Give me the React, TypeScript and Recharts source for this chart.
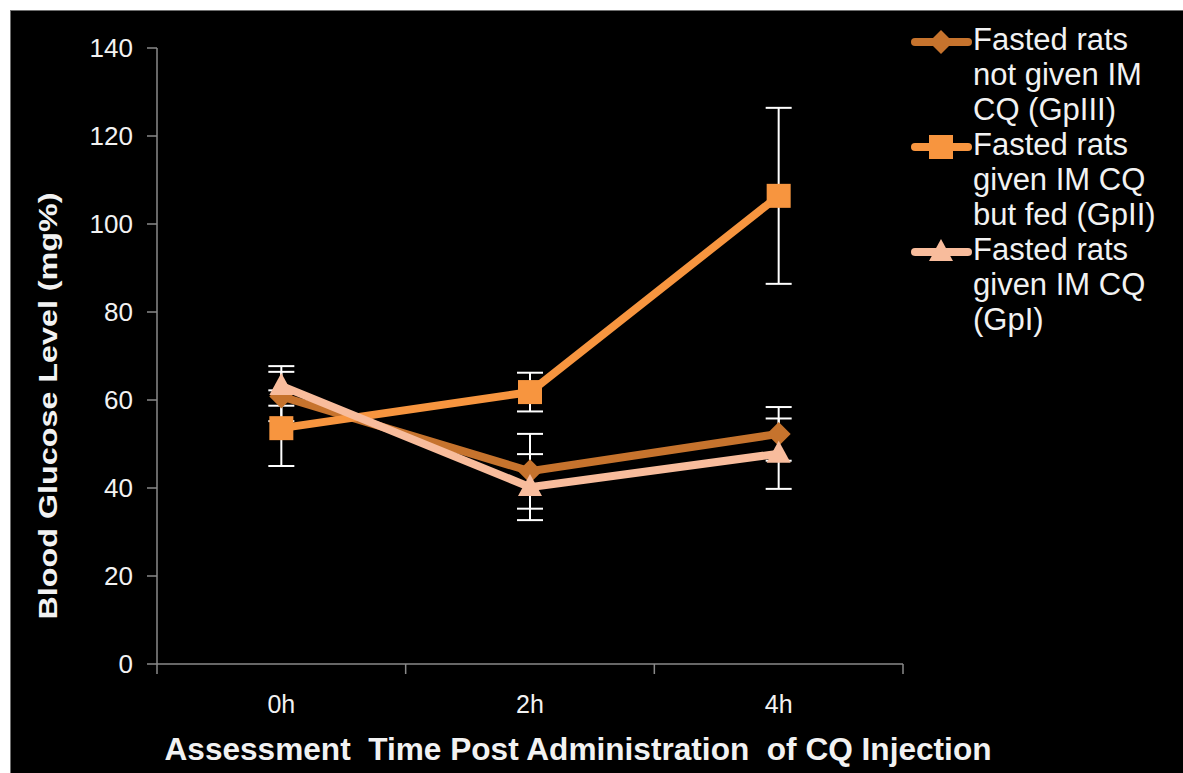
import { LineChart, Line, XAxis, YAxis, ErrorBar, Legend, Label } from 'recharts';

const times = ['0h', '2h', '4h'];
const slots = [0, 1, 2, 3];
const yTicks = [0, 20, 40, 60, 80, 100, 120, 140];

const gp3 = [60.8, 43.8, 52.3];
const gp3Err = [5.6, 8.5, 6.1];
const gp2 = [53.6, 61.8, 106.4];
const gp2Err = [8.6, 4.4, 20];
const gp1 = [63.2, 40.2, 47.8];
const gp1Err = [4.5, 7.5, 8];

const NAMES = {
  gp3: 'Fasted rats not given IM CQ (GpIII)',
  gp2: 'Fasted rats given IM CQ but fed (GpII)',
  gp1: 'Fasted rats given IM CQ (GpI)',
};

const COLORS = {
  gp3: '#C6732D',
  gp2: '#F7953F',
  gp1: '#F8BC9C',
  axis: '#8a8a8a',
  text: '#f2f2f2',
};

const data = times.map((t, i) => ({
  time: t,
  slot: i,
  gp3: gp3[i],
  gp3Err: gp3Err[i],
  gp2: gp2[i],
  gp2Err: gp2Err[i],
  gp1: gp1[i],
  gp1Err: gp1Err[i],
}));

function Marker({ kind, cx, cy, color }: { kind: string; cx: number; cy: number; color: string }) {
  if (kind === 'square') {
    return <rect x={cx - 12} y={cy - 12} width={24} height={24} fill={color} />;
  }
  if (kind === 'diamond') {
    return <path d={`M${cx},${cy - 12} L${cx + 12},${cy} L${cx},${cy + 12} L${cx - 12},${cy} Z`} fill={color} />;
  }
  return <path d={`M${cx},${cy - 13} L${cx + 12},${cy + 9} L${cx - 12},${cy + 9} Z`} fill={color} />;
}

const dotOf = (kind: string, color: string) => (p: any) => (
  <Marker key={`${kind}-${p.index}`} kind={kind} cx={p.cx} cy={p.cy} color={color} />
);

const legendItems = [
  { name: NAMES.gp3, color: COLORS.gp3, kind: 'diamond' },
  { name: NAMES.gp2, color: COLORS.gp2, kind: 'square' },
  { name: NAMES.gp1, color: COLORS.gp1, kind: 'triangle' },
];

function LegendBox() {
  return (
    <div style={{ fontFamily: '"Liberation Sans", Arial, sans-serif', fontSize: 31, lineHeight: '35px', color: COLORS.text }}>
      {legendItems.map((it) => (
        <div key={it.name} style={{ display: 'flex', alignItems: 'flex-start' }}>
          <svg width={63} height={35} style={{ flex: 'none', marginTop: 3 }}>
            <line x1={5} y1={17} x2={58} y2={17} stroke={it.color} strokeWidth={8} strokeLinecap="round" />
            <Marker kind={it.kind} cx={31} cy={17} color={it.color} />
          </svg>
          <div style={{ width: 200 }}>{it.name}</div>
        </div>
      ))}
    </div>
  );
}

function YTitle(props: any) {
  const vb = props.viewBox;
  const x = vb.x + 37;
  const y = vb.y + vb.height / 2 + 50;
  return (
    <text
      x={x}
      y={y}
      transform={`rotate(-90 ${x} ${y})`}
      textAnchor="middle"
      dominantBaseline="central"
      fill={COLORS.text}
      fontFamily='"Liberation Sans", Arial, sans-serif'
      fontWeight="bold"
      fontSize={25}
      textLength={427}
      lengthAdjust="spacingAndGlyphs"
    >
      Blood Glucose Level (mg%)
    </text>
  );
}

function XTitle(props: any) {
  const vb = props.viewBox;
  const x = vb.x + vb.width / 2 + 48;
  const y = vb.y + 82;
  return (
    <text
      x={x}
      y={y}
      textAnchor="middle"
      fill={COLORS.text}
      fontFamily='"Liberation Sans", Arial, sans-serif'
      fontWeight="bold"
      fontSize={31}
      textLength={827}
      lengthAdjust="spacingAndGlyphs"
      style={{ whiteSpace: 'pre' }}
    >
      {'Assessment  Time Post Administration  of CQ Injection'}
    </text>
  );
}

export default function App() {
  return (
    <div style={{ position: 'absolute', left: 0, top: 0, width: 1183, height: 773, background: '#fff', overflow: 'hidden' }}>
      <div
        style={{
          position: 'absolute',
          left: 10,
          top: 10,
          width: 1173,
          height: 763,
          background: '#000',
          borderLeft: '1px solid #6f6f6f',
          borderTop: '1px solid #6f6f6f',
          boxSizing: 'border-box',
        }}
      >
        <LineChart width={1172} height={762} data={data} margin={{ top: 37, right: 280, bottom: 0, left: 0 }}>
          <XAxis
            xAxisId="axisB"
            dataKey="time"
            type="category"
            scale="band"
            height={95}
            axisLine={false}
            tickLine={false}
            tickSize={0}
            tickMargin={17}
            tick={{ fill: COLORS.text, fontSize: 25, fontFamily: '"Liberation Sans", Arial, sans-serif' }}
          >
            <Label content={<XTitle />} />
          </XAxis>
          <XAxis
            xAxisId="axisA"
            dataKey="slot"
            type="number"
            domain={[0, 3]}
            allowDataOverflow
            ticks={slots}
            interval={0}
            tickFormatter={() => ''}
            tick={{ fontSize: 1 }}
            tickSize={10}
            height={14}
            axisLine={{ stroke: COLORS.axis, strokeWidth: 1.5 }}
            tickLine={{ stroke: COLORS.axis, strokeWidth: 1.5 }}
          />
          <YAxis
            domain={[0, 140]}
            ticks={yTicks}
            width={146}
            tickSize={10}
            tickMargin={14}
            axisLine={{ stroke: COLORS.axis, strokeWidth: 1.5 }}
            tickLine={{ stroke: COLORS.axis, strokeWidth: 1.5 }}
            tick={{ fill: COLORS.text, fontSize: 26, fontFamily: '"Liberation Sans", Arial, sans-serif' }}
          >
            <Label content={<YTitle />} />
          </YAxis>
          <Legend
            layout="vertical"
            align="center"
            verticalAlign="middle"
            wrapperStyle={{ left: 899, top: 11, width: 270 }}
            content={<LegendBox />}
          />
          <Line
            xAxisId="axisB"
            name={NAMES.gp3}
            dataKey="gp3"
            stroke={COLORS.gp3}
            strokeWidth={8}
            dot={dotOf('diamond', COLORS.gp3)}
            activeDot={false}
            isAnimationActive={false}
          >
            <ErrorBar dataKey="gp3Err" width={13} strokeWidth={2} stroke="#fff" />
          </Line>
          <Line
            xAxisId="axisB"
            name={NAMES.gp2}
            dataKey="gp2"
            stroke={COLORS.gp2}
            strokeWidth={8}
            dot={dotOf('square', COLORS.gp2)}
            activeDot={false}
            isAnimationActive={false}
          >
            <ErrorBar dataKey="gp2Err" width={13} strokeWidth={2} stroke="#fff" />
          </Line>
          <Line
            xAxisId="axisB"
            name={NAMES.gp1}
            dataKey="gp1"
            stroke={COLORS.gp1}
            strokeWidth={8}
            dot={dotOf('triangle', COLORS.gp1)}
            activeDot={false}
            isAnimationActive={false}
          >
            <ErrorBar dataKey="gp1Err" width={13} strokeWidth={2} stroke="#fff" />
          </Line>
        </LineChart>
      </div>
    </div>
  );
}
